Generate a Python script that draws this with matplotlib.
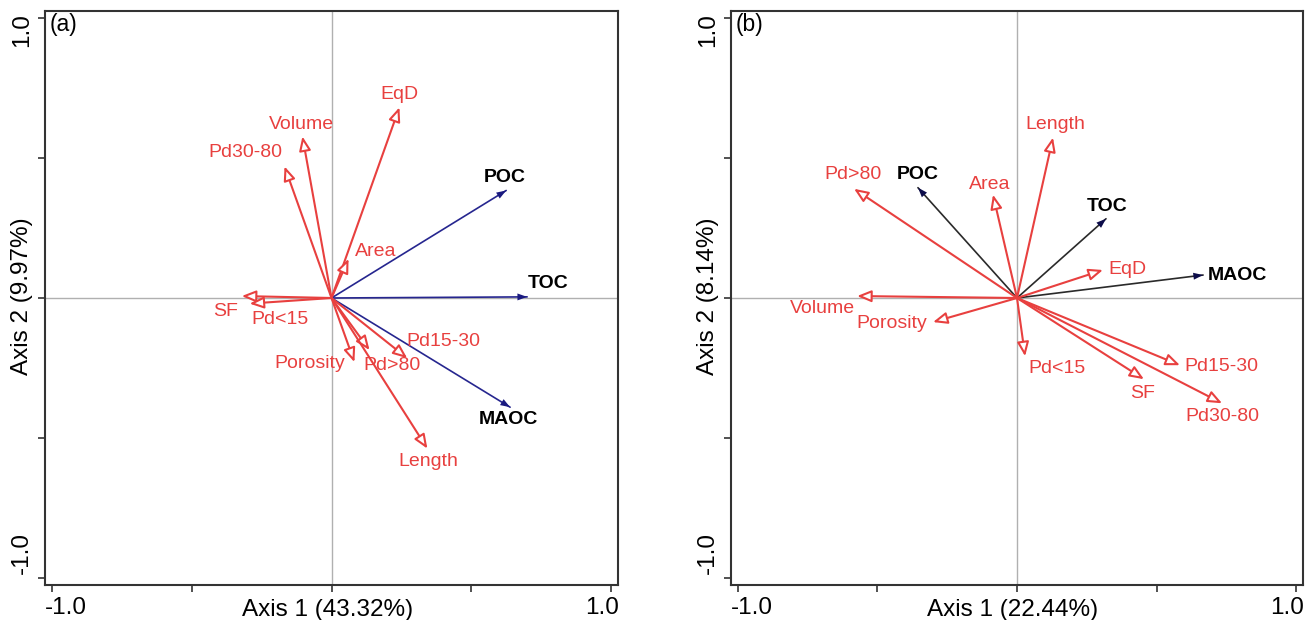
import matplotlib.pyplot as plt
from matplotlib.patches import FancyArrowPatch
from matplotlib.transforms import offset_copy, blended_transform_factory

plt.rcParams['font.family'] = ['Liberation Sans', 'DejaVu Sans']

# panel (a) - soil structure vectors (red) and carbon fractions (blue)
a_vars = ['EqD', 'Volume', 'Pd30-80', 'Area', 'SF', 'Pd<15',
          'Pd15-30', 'Pd>80', 'Porosity', 'Length']
a_x = [0.243, -0.104, -0.168, 0.061, -0.321, -0.293, 0.271, 0.136, 0.082, 0.343]
a_y = [0.681, 0.577, 0.470, 0.140, 0.007, -0.020, -0.215, -0.186, -0.229, -0.538]
a_resp = ['POC', 'TOC', 'MAOC']
a_rx = [0.625, 0.700, 0.639]
a_ry = [0.384, 0.004, -0.390]

# panel (b)
b_vars = ['Length', 'Area', 'Pd>80', 'EqD', 'Volume', 'Porosity',
          'Pd<15', 'Pd15-30', 'SF', 'Pd30-80']
b_x = [0.129, -0.086, -0.584, 0.308, -0.573, -0.301, 0.029, 0.584, 0.455, 0.735]
b_y = [0.573, 0.369, 0.390, 0.100, 0.007, -0.086, -0.208, -0.240, -0.290, -0.376]
b_resp = ['POC', 'TOC', 'MAOC']
b_rx = [-0.355, 0.319, 0.667]
b_ry = [0.394, 0.283, 0.082]

# label offsets from arrow tips (pixels)
a_off = {'EqD': (0, 13), 'Volume': (-1, 12), 'Pd30-80': (-39, 14), 'Area': (27, 7),
         'SF': (-16, -15), 'Pd<15': (30, -16), 'Pd15-30': (36, 17), 'Pd>80': (22, -15),
         'Porosity': (-45, -1), 'Length': (1, -13),
         'POC': (-1, 13), 'TOC': (21, 13), 'MAOC': (-2, -12)}
b_off = {'Length': (2, 13), 'Area': (-3, 10), 'Pd>80': (-1, 14), 'EqD': (24, 0),
         'Volume': (-35, -12), 'Porosity': (-41, -1), 'Pd<15': (32, -12),
         'Pd15-30': (41, -1), 'SF': (-1, -14), 'Pd30-80': (0, -13),
         'POC': (0, 13), 'TOC': (1, 12), 'MAOC': (34, 0)}

red = '#e8403f'
lab_fs = 14
axis_fs = 17.5


def draw_panel(fig, ax, tag, xlab, ylab, vx, vy, vn, rx, ry, rn, off, line_c, head_c):
    lim = 1.025
    ax.set_xlim(-lim, lim)
    ax.set_ylim(-lim, lim)
    ax.axhline(0, color='#b0b0b0', lw=1, zorder=0)
    ax.axvline(0, color='#b0b0b0', lw=1, zorder=0)

    for x, y, n in zip(vx, vy, vn):
        ax.add_patch(FancyArrowPatch((0, 0), (x, y),
                                     arrowstyle='-|>,head_length=8.5,head_width=3.5',
                                     mutation_scale=1, shrinkA=0, shrinkB=0,
                                     lw=1.5, ec=red, fc='white', zorder=3))
        ax.annotate(n, (x, y), xytext=off[n], textcoords='offset pixels',
                    ha='center', va='center', color=red, fontsize=lab_fs)

    for x, y, n in zip(rx, ry, rn):
        ax.add_patch(FancyArrowPatch((0, 0), (x, y),
                                     arrowstyle='-', shrinkA=0, shrinkB=0,
                                     lw=1.2, color=line_c, zorder=2))
        ax.add_patch(FancyArrowPatch((0, 0), (x, y),
                                     arrowstyle='-|>,head_length=7,head_width=2.5',
                                     mutation_scale=1, shrinkA=0, shrinkB=0,
                                     lw=0, color=head_c, zorder=2))
        ax.annotate(n, (x, y), xytext=off[n], textcoords='offset pixels',
                    ha='center', va='center', color='black', fontsize=lab_fs,
                    fontweight='bold')

    ticks = [-1, -0.5, 0, 0.5, 1]
    ax.set_xticks(ticks)
    ax.set_xticklabels([])
    ax.set_yticks(ticks)
    ax.set_yticklabels([])
    ax.tick_params(length=5, width=1.2, color='#333333')
    for s in ax.spines.values():
        s.set_color('#333333')
        s.set_linewidth(1.5)

    # tick labels only at the ends, nudged inward like the original
    bx = blended_transform_factory(ax.transData, ax.transAxes)
    by = blended_transform_factory(ax.transAxes, ax.transData)
    ax.text(-1, 0, '-1.0', transform=offset_copy(bx, fig, x=-7, y=-12, units='dots'),
            ha='left', va='top', fontsize=axis_fs)
    ax.text(1, 0, '1.0', transform=offset_copy(bx, fig, x=8, y=-12, units='dots'),
            ha='right', va='top', fontsize=axis_fs)
    ax.text(0, 1, '1.0', transform=offset_copy(by, fig, x=-23, y=5, units='dots'),
            ha='center', va='top', rotation=90, fontsize=axis_fs)
    ax.text(0, -1, '-1.0', transform=offset_copy(by, fig, x=-23, y=4, units='dots'),
            ha='center', va='bottom', rotation=90, fontsize=axis_fs)

    ax.text(0.5, 0, xlab, transform=offset_copy(ax.transAxes, fig, x=-4, y=-14, units='dots'),
            ha='center', va='top', fontsize=axis_fs)
    ax.text(0, 0.5, ylab, transform=offset_copy(ax.transAxes, fig, x=-23, y=2, units='dots'),
            ha='center', va='center', rotation=90, fontsize=axis_fs)
    ax.text(0, 1, tag, transform=offset_copy(ax.transAxes, fig, x=5, y=-2, units='dots'),
            ha='left', va='top', fontsize=16.5)


fig = plt.figure(figsize=(13.06, 6.2), dpi=100)
ax1 = fig.add_axes([45 / 1306, 35 / 620, 573 / 1306, 574 / 620])
ax2 = fig.add_axes([731 / 1306, 35 / 620, 572 / 1306, 574 / 620])

draw_panel(fig, ax1, '(a)', 'Axis 1 (43.32%)', 'Axis 2 (9.97%)',
           a_x, a_y, a_vars, a_rx, a_ry, a_resp, a_off, '#26268f', '#1a1a80')
draw_panel(fig, ax2, '(b)', 'Axis 1 (22.44%)', 'Axis 2 (8.14%)',
           b_x, b_y, b_vars, b_rx, b_ry, b_resp, b_off, '#2a2a2a', '#0c0c4a')

fig.savefig('out.png', dpi=100)
